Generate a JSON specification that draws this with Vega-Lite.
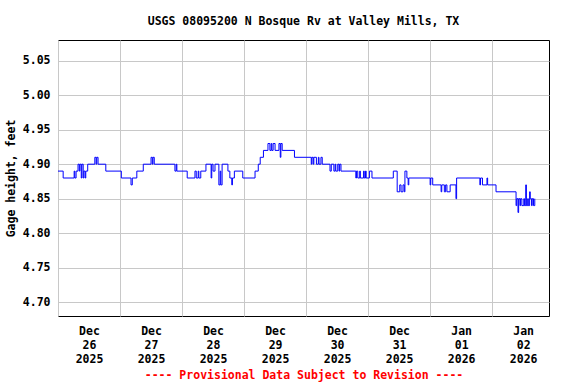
{
  "$schema": "https://vega.github.io/schema/vega-lite/v6.json",
  "autosize": {"type": "none"},
  "padding": {"left": 58, "top": 40, "right": 27, "bottom": 68},
  "width": 491,
  "height": 276,
  "background": "white",
  "title": {
    "text": "USGS 08095200 N Bosque Rv at Valley Mills, TX",
    "font": "DejaVu Sans Mono",
    "fontSize": 11.5,
    "fontWeight": "bold",
    "color": "black",
    "anchor": "middle",
    "offset": 13
  },
  "config": {
    "view": {"stroke": "black", "strokeWidth": 1},
    "axis": {
      "labelFont": "DejaVu Sans Mono",
      "labelFontWeight": "bold",
      "labelFontSize": 11.5,
      "labelColor": "black",
      "titleFont": "DejaVu Sans Mono",
      "titleFontWeight": "bold",
      "titleFontSize": 11.5,
      "titleColor": "black",
      "gridColor": "#c8c8c8",
      "gridWidth": 1,
      "gridOpacity": 1,
      "ticks": false,
      "domain": false
    }
  },
  "data": {
    "values": [
      {"t": "2025-12-26T00:00", "v": 4.89},
      {"t": "2025-12-26T02:00", "v": 4.88},
      {"t": "2025-12-26T06:15", "v": 4.89},
      {"t": "2025-12-26T06:30", "v": 4.88},
      {"t": "2025-12-26T07:00", "v": 4.89},
      {"t": "2025-12-26T07:45", "v": 4.90},
      {"t": "2025-12-26T08:15", "v": 4.89},
      {"t": "2025-12-26T08:30", "v": 4.90},
      {"t": "2025-12-26T09:00", "v": 4.88},
      {"t": "2025-12-26T09:15", "v": 4.90},
      {"t": "2025-12-26T09:45", "v": 4.88},
      {"t": "2025-12-26T10:00", "v": 4.89},
      {"t": "2025-12-26T10:30", "v": 4.88},
      {"t": "2025-12-26T10:45", "v": 4.89},
      {"t": "2025-12-26T11:30", "v": 4.90},
      {"t": "2025-12-26T14:15", "v": 4.91},
      {"t": "2025-12-26T14:45", "v": 4.90},
      {"t": "2025-12-26T15:00", "v": 4.91},
      {"t": "2025-12-26T15:30", "v": 4.90},
      {"t": "2025-12-26T18:30", "v": 4.89},
      {"t": "2025-12-27T00:30", "v": 4.88},
      {"t": "2025-12-27T04:15", "v": 4.87},
      {"t": "2025-12-27T04:45", "v": 4.88},
      {"t": "2025-12-27T06:30", "v": 4.89},
      {"t": "2025-12-27T09:00", "v": 4.90},
      {"t": "2025-12-27T12:00", "v": 4.91},
      {"t": "2025-12-27T12:30", "v": 4.90},
      {"t": "2025-12-27T12:45", "v": 4.91},
      {"t": "2025-12-27T13:15", "v": 4.90},
      {"t": "2025-12-27T21:15", "v": 4.89},
      {"t": "2025-12-27T21:45", "v": 4.90},
      {"t": "2025-12-27T22:00", "v": 4.89},
      {"t": "2025-12-28T02:00", "v": 4.88},
      {"t": "2025-12-28T05:00", "v": 4.89},
      {"t": "2025-12-28T05:30", "v": 4.88},
      {"t": "2025-12-28T06:15", "v": 4.89},
      {"t": "2025-12-28T06:30", "v": 4.88},
      {"t": "2025-12-28T07:15", "v": 4.89},
      {"t": "2025-12-28T09:15", "v": 4.90},
      {"t": "2025-12-28T11:15", "v": 4.88},
      {"t": "2025-12-28T11:30", "v": 4.90},
      {"t": "2025-12-28T12:00", "v": 4.89},
      {"t": "2025-12-28T12:45", "v": 4.90},
      {"t": "2025-12-28T14:15", "v": 4.87},
      {"t": "2025-12-28T14:45", "v": 4.89},
      {"t": "2025-12-28T15:00", "v": 4.87},
      {"t": "2025-12-28T15:30", "v": 4.90},
      {"t": "2025-12-28T17:45", "v": 4.89},
      {"t": "2025-12-28T18:30", "v": 4.88},
      {"t": "2025-12-28T19:15", "v": 4.87},
      {"t": "2025-12-28T19:30", "v": 4.88},
      {"t": "2025-12-28T20:15", "v": 4.89},
      {"t": "2025-12-28T23:30", "v": 4.88},
      {"t": "2025-12-29T04:15", "v": 4.89},
      {"t": "2025-12-29T05:30", "v": 4.90},
      {"t": "2025-12-29T06:15", "v": 4.91},
      {"t": "2025-12-29T07:30", "v": 4.92},
      {"t": "2025-12-29T09:15", "v": 4.93},
      {"t": "2025-12-29T10:00", "v": 4.92},
      {"t": "2025-12-29T10:30", "v": 4.93},
      {"t": "2025-12-29T10:45", "v": 4.92},
      {"t": "2025-12-29T11:15", "v": 4.93},
      {"t": "2025-12-29T12:00", "v": 4.92},
      {"t": "2025-12-29T13:30", "v": 4.93},
      {"t": "2025-12-29T14:00", "v": 4.91},
      {"t": "2025-12-29T14:15", "v": 4.93},
      {"t": "2025-12-29T14:45", "v": 4.92},
      {"t": "2025-12-29T19:30", "v": 4.91},
      {"t": "2025-12-30T02:00", "v": 4.90},
      {"t": "2025-12-30T02:15", "v": 4.91},
      {"t": "2025-12-30T02:45", "v": 4.90},
      {"t": "2025-12-30T03:00", "v": 4.91},
      {"t": "2025-12-30T04:00", "v": 4.90},
      {"t": "2025-12-30T04:45", "v": 4.91},
      {"t": "2025-12-30T05:00", "v": 4.90},
      {"t": "2025-12-30T05:45", "v": 4.91},
      {"t": "2025-12-30T06:15", "v": 4.90},
      {"t": "2025-12-30T09:15", "v": 4.89},
      {"t": "2025-12-30T09:45", "v": 4.90},
      {"t": "2025-12-30T10:45", "v": 4.89},
      {"t": "2025-12-30T11:15", "v": 4.90},
      {"t": "2025-12-30T11:30", "v": 4.89},
      {"t": "2025-12-30T12:15", "v": 4.90},
      {"t": "2025-12-30T12:45", "v": 4.89},
      {"t": "2025-12-30T13:00", "v": 4.90},
      {"t": "2025-12-30T13:30", "v": 4.89},
      {"t": "2025-12-30T19:15", "v": 4.88},
      {"t": "2025-12-30T19:30", "v": 4.89},
      {"t": "2025-12-30T20:00", "v": 4.88},
      {"t": "2025-12-30T20:45", "v": 4.89},
      {"t": "2025-12-30T21:00", "v": 4.88},
      {"t": "2025-12-30T22:15", "v": 4.89},
      {"t": "2025-12-30T22:30", "v": 4.88},
      {"t": "2025-12-30T23:00", "v": 4.89},
      {"t": "2025-12-30T23:15", "v": 4.88},
      {"t": "2025-12-31T00:30", "v": 4.89},
      {"t": "2025-12-31T01:30", "v": 4.88},
      {"t": "2025-12-31T09:45", "v": 4.89},
      {"t": "2025-12-31T11:15", "v": 4.86},
      {"t": "2025-12-31T12:15", "v": 4.87},
      {"t": "2025-12-31T12:45", "v": 4.86},
      {"t": "2025-12-31T13:30", "v": 4.87},
      {"t": "2025-12-31T14:00", "v": 4.86},
      {"t": "2025-12-31T14:15", "v": 4.89},
      {"t": "2025-12-31T15:00", "v": 4.88},
      {"t": "2025-12-31T15:30", "v": 4.87},
      {"t": "2025-12-31T15:45", "v": 4.88},
      {"t": "2026-01-01T00:00", "v": 4.87},
      {"t": "2026-01-01T00:15", "v": 4.88},
      {"t": "2026-01-01T01:00", "v": 4.87},
      {"t": "2026-01-01T04:15", "v": 4.86},
      {"t": "2026-01-01T04:30", "v": 4.87},
      {"t": "2026-01-01T05:30", "v": 4.86},
      {"t": "2026-01-01T06:00", "v": 4.87},
      {"t": "2026-01-01T06:30", "v": 4.86},
      {"t": "2026-01-01T07:45", "v": 4.87},
      {"t": "2026-01-01T10:00", "v": 4.85},
      {"t": "2026-01-01T10:15", "v": 4.88},
      {"t": "2026-01-01T19:15", "v": 4.87},
      {"t": "2026-01-01T19:30", "v": 4.88},
      {"t": "2026-01-01T20:15", "v": 4.87},
      {"t": "2026-01-01T22:00", "v": 4.88},
      {"t": "2026-01-01T22:15", "v": 4.87},
      {"t": "2026-01-02T01:30", "v": 4.86},
      {"t": "2026-01-02T09:15", "v": 4.84},
      {"t": "2026-01-02T09:30", "v": 4.85},
      {"t": "2026-01-02T10:00", "v": 4.83},
      {"t": "2026-01-02T10:15", "v": 4.85},
      {"t": "2026-01-02T10:45", "v": 4.84},
      {"t": "2026-01-02T11:00", "v": 4.85},
      {"t": "2026-01-02T11:30", "v": 4.84},
      {"t": "2026-01-02T12:15", "v": 4.85},
      {"t": "2026-01-02T12:30", "v": 4.84},
      {"t": "2026-01-02T13:00", "v": 4.87},
      {"t": "2026-01-02T13:15", "v": 4.84},
      {"t": "2026-01-02T13:45", "v": 4.85},
      {"t": "2026-01-02T14:00", "v": 4.84},
      {"t": "2026-01-02T14:30", "v": 4.86},
      {"t": "2026-01-02T14:45", "v": 4.85},
      {"t": "2026-01-02T15:15", "v": 4.84},
      {"t": "2026-01-02T15:30", "v": 4.85},
      {"t": "2026-01-02T16:00", "v": 4.84},
      {"t": "2026-01-02T16:30", "v": 4.85}
    ]
  },
  "mark": {"type": "line", "color": "#0000ff", "strokeWidth": 1, "interpolate": "step-after", "clip": true},
  "encoding": {
    "x": {
      "field": "t",
      "type": "temporal",
      "scale": {
        "domain": [
          {"year": 2025, "month": 12, "date": 26, "hours": 0},
          {"year": 2026, "month": 1, "date": 2, "hours": 22}
        ]
      },
      "axis": {
        "values": [
          {"year": 2025, "month": 12, "date": 26},
          {"year": 2025, "month": 12, "date": 27},
          {"year": 2025, "month": 12, "date": 28},
          {"year": 2025, "month": 12, "date": 29},
          {"year": 2025, "month": 12, "date": 30},
          {"year": 2025, "month": 12, "date": 31},
          {"year": 2026, "month": 1, "date": 1},
          {"year": 2026, "month": 1, "date": 2}
        ],
        "labelExpr": "[timeFormat(datum.value, '%b'), timeFormat(datum.value, '%d'), timeFormat(datum.value, '%Y')]",
        "labelOffset": 31,
        "labelAlign": "center",
        "labelBaseline": "top",
        "labelLineHeight": 14,
        "labelPadding": 9,
        "labelFlush": false,
        "labelOverlap": false,
        "labelBound": false,
        "title": "---- Provisional Data Subject to Revision ----",
        "titleColor": "#ff0000",
        "titlePadding": 5
      }
    },
    "y": {
      "field": "v",
      "type": "quantitative",
      "scale": {"domain": [4.68, 5.08], "nice": false, "zero": false},
      "axis": {
        "values": [4.70, 4.75, 4.80, 4.85, 4.90, 4.95, 5.00, 5.05],
        "format": ".2f",
        "labelPadding": 8,
        "title": "Gage height, feet",
        "titlePadding": 6
      }
    }
  }
}
